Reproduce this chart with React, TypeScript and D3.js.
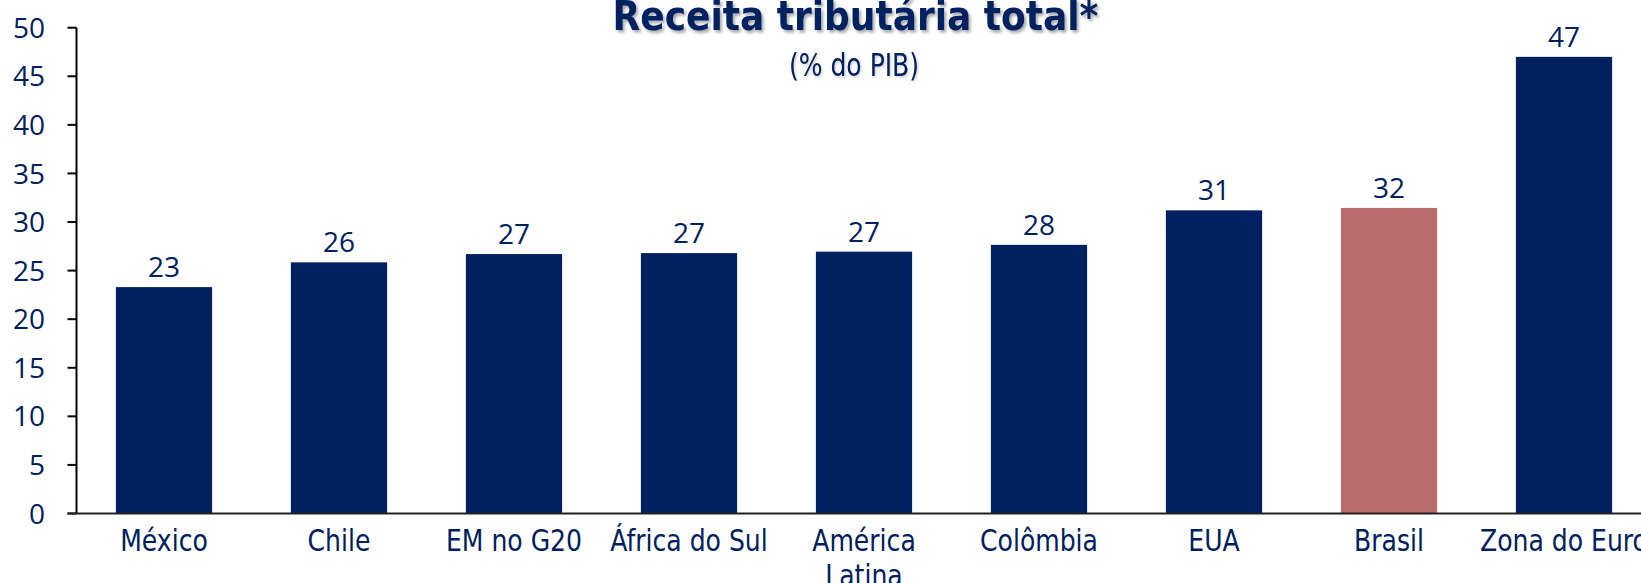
import React from "react";
import * as d3 from "d3";

const categories: string[][] = [
  ["México"],
  ["Chile"],
  ["EM no G20"],
  ["África do Sul"],
  ["América", "Latina"],
  ["Colômbia"],
  ["EUA"],
  ["Brasil"],
  ["Zona do Euro"],
];
const values: number[] = [23.3, 25.85, 26.7, 26.8, 26.95, 27.65, 31.2, 31.45, 47.0];
const valueLabels: string[] = ["23", "26", "27", "27", "27", "28", "31", "32", "47"];
const highlight: string = "Brasil";
const yTicks: number[] = [0, 5, 10, 15, 20, 25, 30, 35, 40, 45, 50];
const title = "Receita tributária total*";
const subtitle = "(% do PIB)";

const W = 1641;
const H = 583;
const NAVY = "#002060";
const ROSE = "#BA6B6C";
const NARROW = "'DejaVu Sans Condensed', 'DejaVu Sans', sans-serif";
const SANS = "'Open Sans', 'Noto Sans', sans-serif";

export default function App() {
  const keys = categories.map((c) => c.join(" "));
  const x = d3
    .scaleBand<string>()
    .domain(keys)
    .range([76.5, 1651.5])
    .paddingInner(0.45)
    .paddingOuter(0.225);
  const y = d3.scaleLinear().domain([0, 50]).range([513.5, 27.7]);
  const axisX = 76.5;
  const cx = (k: string) => (x(k) as number) + x.bandwidth() / 2;

  return (
    <svg
      width={W}
      height={H}
      style={{ position: "fixed", left: 0, top: 0, background: "#fff" }}
    >
      <defs>
        <filter id="shadow" x="-5%" y="-20%" width="110%" height="160%">
          <feDropShadow dx="2" dy="2.5" stdDeviation="1.5" floodColor="#000" floodOpacity="0.35" />
        </filter>
        <filter id="shadow2" x="-5%" y="-20%" width="110%" height="160%">
          <feDropShadow dx="1.5" dy="1.5" stdDeviation="1" floodColor="#000" floodOpacity="0.2" />
        </filter>
      </defs>

      {/* bars */}
      {keys.map((k, i) => (
        <rect
          key={k}
          x={x(k)}
          y={y(values[i])}
          width={x.bandwidth()}
          height={y(0) - y(values[i])}
          fill={k === highlight ? ROSE : NAVY}
        />
      ))}

      {/* value labels */}
      {keys.map((k, i) => (
        <text
          key={"v" + k}
          x={cx(k)}
          y={y(values[i]) - 10}
          textAnchor="middle"
          fontFamily={SANS}
          fontSize={28}
          fill={NAVY}
        >
          {valueLabels[i]}
        </text>
      ))}

      {/* y axis */}
      <line x1={axisX} x2={axisX} y1={y(50)} y2={y(0)} stroke="#000" strokeWidth={2} />
      {yTicks.map((t) => (
        <g key={"t" + t}>
          <line x1={axisX - 9} x2={axisX} y1={y(t)} y2={y(t)} stroke="#000" strokeWidth={2} />
          <text
            x={45}
            y={y(t)}
            dy="0.36em"
            textAnchor="end"
            fontFamily={SANS}
            fontSize={28}
            fill={NAVY}
          >
            {t}
          </text>
        </g>
      ))}

      {/* x axis */}
      <line x1={axisX - 9} x2={W} y1={y(0)} y2={y(0)} stroke="#222" strokeWidth={2} />

      {/* category labels */}
      {categories.map((lines, i) => (
        <text
          key={"c" + i}
          transform={`translate(${cx(keys[i])},551) scale(0.9,1)`}
          textAnchor="middle"
          fontFamily={NARROW}
          fontSize={31}
          fill={NAVY}
        >
          {lines.map((l, j) => (
            <tspan key={j} x={0} dy={j === 0 ? 0 : 35}>
              {l}
            </tspan>
          ))}
        </text>
      ))}

      {/* title */}
      <text
        x={855.5}
        y={29.5}
        textAnchor="middle"
        fontFamily={NARROW}
        fontWeight="bold"
        fontSize={40}
        fill={NAVY}
        filter="url(#shadow)"
      >
        {title}
      </text>
      <text
        transform="translate(854,76) scale(0.87,1)"
        textAnchor="middle"
        fontFamily={NARROW}
        fontSize={32}
        fill={NAVY}
        filter="url(#shadow2)"
      >
        {subtitle}
      </text>
    </svg>
  );
}
